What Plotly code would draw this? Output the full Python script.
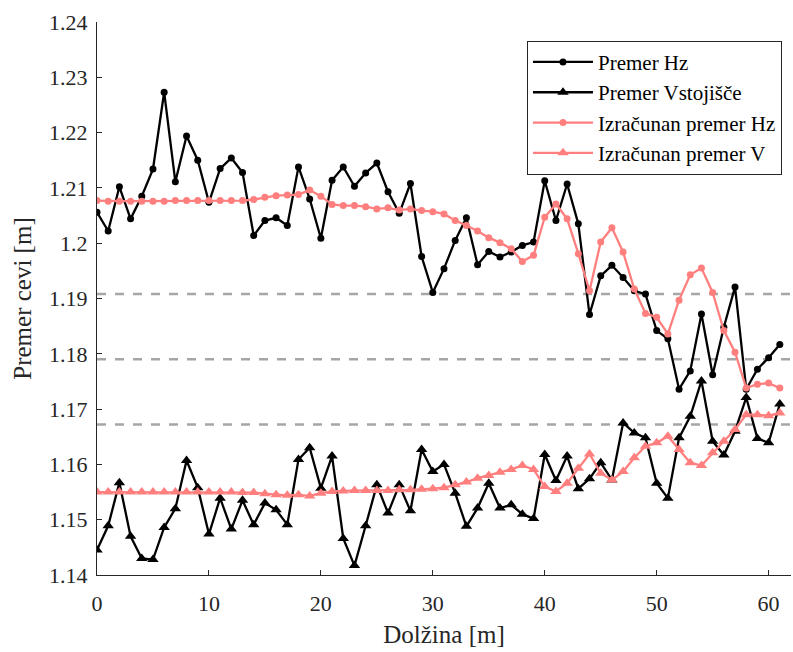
import plotly.graph_objects as go

x_vals = list(range(62))

premer_hz = [1.2056, 1.2022, 1.2102, 1.2044, 1.2085, 1.2134, 1.2273, 1.2111, 1.2194, 1.2150,
             1.2074, 1.2135, 1.2154, 1.2128, 1.2014, 1.2041, 1.2046, 1.2032, 1.2138, 1.2080,
             1.2009, 1.2114, 1.2138, 1.2103, 1.2127, 1.2145, 1.2093, 1.2054, 1.2108, 1.1976,
             1.1911, 1.1954, 1.2005, 1.2046, 1.1961, 1.1985, 1.1975, 1.1984, 1.1996, 1.2002,
             1.2113, 1.2041, 1.2107, 1.2035, 1.1871, 1.1941, 1.1960, 1.1938, 1.1914, 1.1908,
             1.1842, 1.1827, 1.1736, 1.1769, 1.1872, 1.1762, 1.1848, 1.1921, 1.1736, 1.1772,
             1.1793, 1.1817]

premer_v = [1.1445, 1.1489, 1.1567, 1.1470, 1.1430, 1.1428, 1.1486, 1.1520, 1.1607, 1.1558,
            1.1474, 1.1539, 1.1483, 1.1535, 1.1491, 1.1530, 1.1518, 1.1491, 1.1609, 1.1630,
            1.1557, 1.1615, 1.1466, 1.1417, 1.1489, 1.1563, 1.1512, 1.1563, 1.1516, 1.1627,
            1.1587, 1.1600, 1.1548, 1.1488, 1.1521, 1.1566, 1.1521, 1.1527, 1.1510, 1.1502,
            1.1618, 1.1571, 1.1615, 1.1556, 1.1574, 1.1603, 1.1572, 1.1675, 1.1657, 1.1648,
            1.1566, 1.1539, 1.1648, 1.1687, 1.1751, 1.1642, 1.1617, 1.1660, 1.1721, 1.1647,
            1.1639, 1.1709]

izr_hz = [1.2077, 1.2076, 1.2076, 1.2076, 1.2076, 1.2076, 1.2076, 1.2077, 1.2077, 1.2077,
          1.2077, 1.2077, 1.2077, 1.2077, 1.2079, 1.2083, 1.2086, 1.2087, 1.2088, 1.2096,
          1.2085, 1.2070, 1.2068, 1.2068, 1.2066, 1.2062, 1.2064, 1.2060, 1.2062, 1.2059,
          1.2057, 1.2053, 1.2041, 1.2032, 1.2022, 1.2010, 1.2001, 1.1990, 1.1967, 1.1978,
          1.2047, 1.2071, 1.2044, 1.1981, 1.1914, 1.2002, 1.2028, 1.1984, 1.1917, 1.1873,
          1.1866, 1.1836, 1.1897, 1.1943, 1.1955, 1.1911, 1.1842, 1.1803, 1.1738, 1.1745,
          1.1747, 1.1738]

izr_v = [1.1550, 1.1550, 1.1550, 1.1550, 1.1550, 1.1550, 1.1550, 1.1550, 1.1550, 1.1550,
         1.1550, 1.1550, 1.1550, 1.1549, 1.1549, 1.1547, 1.1545, 1.1544, 1.1545, 1.1543,
         1.1548, 1.1551, 1.1552, 1.1553, 1.1553, 1.1553, 1.1553, 1.1554, 1.1554, 1.1555,
         1.1556, 1.1558, 1.1563, 1.1568, 1.1575, 1.1580, 1.1586, 1.1591, 1.1598, 1.1591,
         1.1560, 1.1551, 1.1566, 1.1593, 1.1619, 1.1584, 1.1572, 1.1587, 1.1612, 1.1633,
         1.1639, 1.1651, 1.1627, 1.1603, 1.1598, 1.1621, 1.1642, 1.1663, 1.1690, 1.1690,
         1.1688, 1.1693]

ref_lines = [1.1908, 1.1790, 1.1672]

x_ticks = [0, 10, 20, 30, 40, 50, 60]
y_ticks = [1.14, 1.15, 1.16, 1.17, 1.18, 1.19, 1.20, 1.21, 1.22, 1.23, 1.24]
y_tick_text = ["1.14", "1.15", "1.16", "1.17", "1.18", "1.19", "1.2", "1.21", "1.22", "1.23", "1.24"]

FONT = "Liberation Serif"
BLACK = "#000000"
PINK = "#FF7F7F"
AX = "#262626"

fig = go.Figure()

for yv in ref_lines:
    fig.add_shape(type="line", xref="x", yref="y", x0=0, x1=62, y0=yv, y1=yv,
                  line=dict(color="#A6A6A6", width=2.5, dash="dash"), layer="below")

fig.add_trace(go.Scatter(x=x_vals, y=premer_hz, mode="lines+markers", name="Premer Hz",
                         line=dict(color=BLACK, width=2.3),
                         marker=dict(symbol="circle", size=7, color=BLACK)))
fig.add_trace(go.Scatter(x=x_vals, y=premer_v, mode="lines+markers", name="Premer Vstojišče",
                         line=dict(color=BLACK, width=2.3),
                         marker=dict(symbol="triangle-up", size=10, color=BLACK)))
fig.add_trace(go.Scatter(x=x_vals, y=izr_hz, mode="lines+markers", name="Izračunan premer Hz",
                         line=dict(color=PINK, width=2.3),
                         marker=dict(symbol="circle", size=7, color=PINK)))
fig.add_trace(go.Scatter(x=x_vals, y=izr_v, mode="lines+markers", name="Izračunan premer V",
                         line=dict(color=PINK, width=2.3),
                         marker=dict(symbol="triangle-up", size=10, color=PINK)))

fig.update_layout(
    width=793, height=652,
    margin=dict(l=97, r=2, t=22, b=77),
    paper_bgcolor="white", plot_bgcolor="white",
    font=dict(family=FONT, size=22, color=AX),
    showlegend=True,
    legend=dict(x=0.987, y=0.966, xanchor="right", yanchor="top",
                bgcolor="white", bordercolor=AX, borderwidth=1,
                font=dict(family=FONT, size=21, color="#000000"),
                itemwidth=60, tracegroupgap=0),
    xaxis=dict(range=[0, 62], tickvals=x_ticks, ticktext=[str(v) for v in x_ticks],
               ticks="inside", ticklen=5, tickcolor=AX, ticklabelstandoff=8,
               showline=True, linecolor=AX, linewidth=1.2,
               showgrid=False, zeroline=False, mirror=False,
               title=dict(text="Dolžina [m]", font=dict(family=FONT, size=25, color=AX), standoff=10),
               tickfont=dict(family=FONT, size=22, color=AX)),
    yaxis=dict(range=[1.14, 1.24], tickvals=y_ticks, ticktext=y_tick_text,
               ticks="inside", ticklen=5, tickcolor=AX, ticklabelstandoff=4,
               showline=True, linecolor=AX, linewidth=1.2,
               showgrid=False, zeroline=False, mirror=False,
               title=dict(text="Premer cevi [m]", font=dict(family=FONT, size=25, color=AX), standoff=10),
               tickfont=dict(family=FONT, size=22, color=AX)),
)

fig.write_html("out.html")
